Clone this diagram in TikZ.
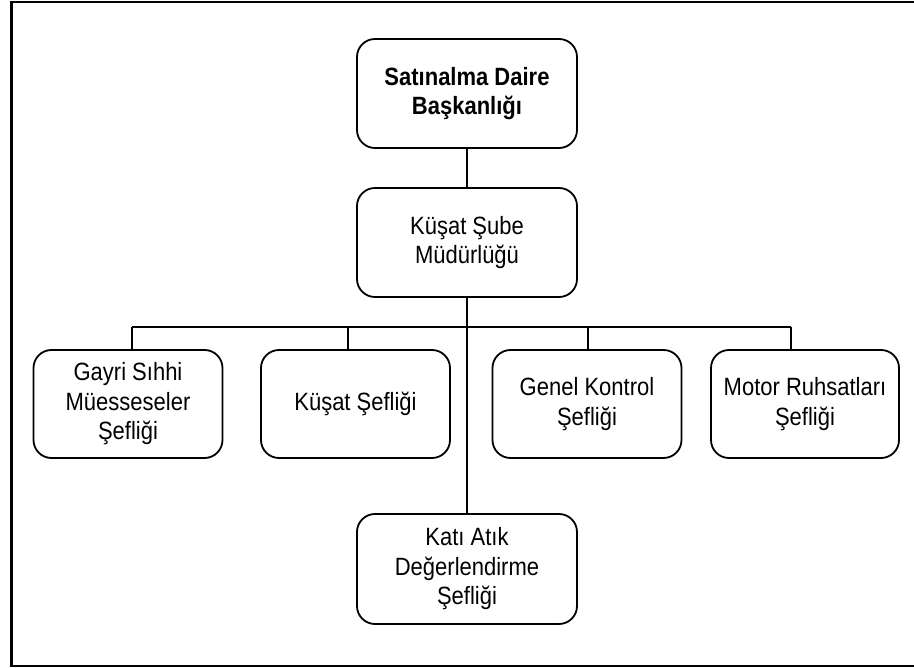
\documentclass[tikz,border=0pt]{standalone}
\usepackage{fontspec}
\setmainfont[FakeStretch=0.88]{Liberation Sans}
\begin{document}
\begin{tikzpicture}[x=1pt,y=-1pt,
  box/.style={draw, line width=1.8pt, rounded corners=18pt, align=center,
    inner sep=0pt, font=\fontsize{25}{29.5}\selectfont},
  wide/.style={box, minimum width=220pt, minimum height=109pt},
  leaf/.style={box, minimum width=189pt, minimum height=108pt},
  link/.style={line width=1.8pt}]
\useasboundingbox (0,0) rectangle (914,668);
% outer frame (right side is cut off)
\coordinate (fTR) at (914,2);
\coordinate (fTL) at (11.5,2);
\coordinate (fBL) at (11.5,666);
\coordinate (fBR) at (914,666);
\draw[line width=2.2pt] (fTR) -- (fTL) -- (fBL) -- (fBR);

\node[wide] (top) at (467,93.5) {\textbf{Satınalma Daire}\\\textbf{Başkanlığı}};
\node[wide] (mid) at (467,242.5) {Küşat Şube\\Müdürlüğü};
\node[leaf] (b1) at (128,404) {Gayri Sıhhi\\Müesseseler\\Şefliği};
\node[leaf] (b2) at (355.5,404) {Küşat Şefliği};
\node[leaf] (b3) at (587,404) {Genel Kontrol\\Şefliği};
\node[leaf, minimum width=188pt] (b4) at (805,404) {Motor Ruhsatları\\Şefliği};
\node[wide, minimum height=110pt] (kat) at (467,569) {Katı Atık\\Değerlendirme\\Şefliği};

\draw[link] (top) -- (mid);
\draw[link] (mid) -- (kat);
\coordinate (busL) at (132,327);
\coordinate (busR) at (791,327);
\draw[link] (busL) -- (busR);
\draw[link] (busL) -- (busL |- b1.north);
\draw[link] (348,327) coordinate (d2) -- (d2 |- b2.north);
\draw[link] (588,327) coordinate (d3) -- (d3 |- b3.north);
\draw[link] (busR) -- (busR |- b4.north);
\end{tikzpicture}
\end{document}
